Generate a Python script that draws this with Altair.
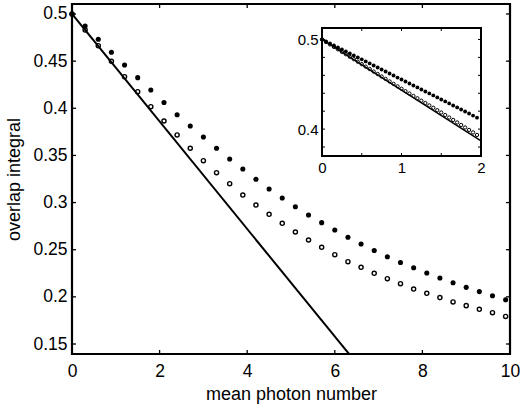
import altair as alt
import pandas as pd

# ---------------- data ----------------
n_main = [0.0, 0.3, 0.6, 0.9, 1.2, 1.5, 1.8, 2.1, 2.4, 2.7, 3.0, 3.3, 3.6, 3.9,
          4.2, 4.5, 4.8, 5.1, 5.4, 5.7, 6.0, 6.3, 6.6, 6.9, 7.2, 7.5, 7.8, 8.1,
          8.4, 8.7, 9.0, 9.3, 9.6, 9.9]
filled_main = [0.5000, 0.4873, 0.4732, 0.4594, 0.4459, 0.4325, 0.4194, 0.4062,
               0.3932, 0.3812, 0.3696, 0.3576, 0.3462, 0.3356, 0.3247, 0.3144,
               0.3049, 0.2956, 0.2868, 0.2787, 0.2709, 0.2632, 0.2561, 0.2492,
               0.2426, 0.2364, 0.2308, 0.2253, 0.2200, 0.2150, 0.2101, 0.2056,
               0.2012, 0.1970]
open_main = [0.5000, 0.4830, 0.4664, 0.4498, 0.4335, 0.4176, 0.4017, 0.3865,
             0.3717, 0.3576, 0.3444, 0.3317, 0.3200, 0.3080, 0.2974, 0.2876,
             0.2780, 0.2688, 0.2603, 0.2526, 0.2447, 0.2373, 0.2313, 0.2250,
             0.2193, 0.2140, 0.2083, 0.2038, 0.1992, 0.1946, 0.1907, 0.1868,
             0.1832, 0.1792]
line_main_x = [0.0, 7.0]
line_main_y = [0.5, 0.101]

n_inset = [0.00, 0.05, 0.10, 0.15, 0.20, 0.25, 0.30, 0.35, 0.40, 0.45,
           0.50, 0.55, 0.60, 0.65, 0.70, 0.75, 0.80, 0.85, 0.90, 0.95,
           1.00, 1.05, 1.10, 1.15, 1.20, 1.25, 1.30, 1.35, 1.40, 1.45,
           1.50, 1.55, 1.60, 1.65, 1.70, 1.75, 1.80, 1.85, 1.90, 1.95]
filled_inset = [0.5000, 0.4978, 0.4955, 0.4933, 0.4911, 0.4889, 0.4866, 0.4844,
                0.4822, 0.4800, 0.4778, 0.4755, 0.4733, 0.4710, 0.4688, 0.4665,
                0.4643, 0.4620, 0.4598, 0.4575, 0.4553, 0.4531, 0.4509, 0.4487,
                0.4465, 0.4442, 0.4420, 0.4398, 0.4376, 0.4354, 0.4331, 0.4309,
                0.4287, 0.4264, 0.4242, 0.4219, 0.4197, 0.4174, 0.4151, 0.4128]
open_inset = [0.5000, 0.4972, 0.4945, 0.4917, 0.4890, 0.4862, 0.4835, 0.4807,
              0.4780, 0.4752, 0.4725, 0.4697, 0.4670, 0.4642, 0.4615, 0.4587,
              0.4560, 0.4532, 0.4505, 0.4477, 0.4450, 0.4423, 0.4397, 0.4370,
              0.4344, 0.4317, 0.4291, 0.4264, 0.4238, 0.4211, 0.4185, 0.4157,
              0.4129, 0.4102, 0.4074, 0.4046, 0.4018, 0.3991, 0.3963, 0.3935]
line_inset_x = [0.0, 2.0]
line_inset_y = [0.5, 0.387]

main_x_ticks = [0, 2, 4, 6, 8, 10]
main_y_ticks = [0.15, 0.2, 0.25, 0.3, 0.35, 0.4, 0.45, 0.5]
inset_x_ticks = [0, 0.5, 1, 1.5, 2]
inset_y_ticks = [0.38, 0.4, 0.42, 0.44, 0.46, 0.48, 0.5]
inset_x_labels = [0, 1, 2]
inset_y_labels = [0.4, 0.5]

main_x_domain = [0, 10]
main_y_domain = [0.1394, 0.5106]
inset_x_domain = [0, 2]
inset_y_domain = [0.37, 0.5128]

x_title = "mean photon number"
y_title = "overlap integral"

# ---------------- layout ----------------
W, H = 438, 350
INSET_X_RANGE = [250, 409]
INSET_Y_RANGE = [152, 24]
FONT = "Liberation Sans"
TICK = 4
ITICK = 3

xs = alt.Scale(domain=main_x_domain, nice=False, zero=False)
ys = alt.Scale(domain=main_y_domain, nice=False, zero=False)
ixs = alt.Scale(domain=inset_x_domain, range=INSET_X_RANGE, nice=False, zero=False)
iys = alt.Scale(domain=inset_y_domain, range=INSET_Y_RANGE, nice=False, zero=False)

main_x_axis = alt.Axis(values=main_x_ticks, title=x_title, ticks=False, domain=False,
                       grid=False, labelFontSize=17.5, titleFontSize=18,
                       labelPadding=8, titlePadding=6, labelFlush=False,
                       labelOverlap=False)
main_y_axis = alt.Axis(values=main_y_ticks, title=y_title, ticks=False, domain=False,
                       grid=False, format=".2~f", labelFontSize=17.5, titleFontSize=18,
                       labelPadding=5, titlePadding=9, labelFlush=False,
                       labelOverlap=False)
inset_x_axis = alt.Axis(values=inset_x_labels, title=None, orient="bottom",
                        offset=-(H - INSET_Y_RANGE[0]), ticks=False, domain=False,
                        grid=False, format=".0f", labelFontSize=15, labelPadding=4,
                        zindex=1, labelFlush=False, labelOverlap=False)
inset_y_axis = alt.Axis(values=inset_y_labels, title=None, orient="left",
                        offset=-INSET_X_RANGE[0], ticks=False, domain=False,
                        grid=False, format=".1f", labelFontSize=15, labelPadding=4,
                        zindex=1, labelFlush=False, labelOverlap=False)

df_f = pd.DataFrame({"x": n_main, "y": filled_main})
df_o = pd.DataFrame({"x": n_main, "y": open_main})
df_l = pd.DataFrame({"x": line_main_x, "y": line_main_y})

def mx(f="x"):
    return alt.X(f"{f}:Q", scale=xs, axis=main_x_axis)

def my(f="y"):
    return alt.Y(f"{f}:Q", scale=ys, axis=main_y_axis)

m_line = alt.Chart(df_l).mark_line(color="black", strokeWidth=2, clip=True).encode(x=mx(), y=my())
m_filled = alt.Chart(df_f).mark_point(filled=True, size=26, color="black", opacity=1).encode(x=mx(), y=my())
m_open = alt.Chart(df_o).mark_point(filled=False, size=17, strokeWidth=1.4, color="black", opacity=1).encode(x=mx(), y=my())

df_mxt = pd.DataFrame({"x": main_x_ticks})
df_myt = pd.DataFrame({"y": main_y_ticks})
m_xt_b = alt.Chart(df_mxt).mark_rule(color="black", strokeWidth=1.3).encode(x=mx(), y=alt.value(H), y2=alt.value(H - TICK))
m_xt_t = alt.Chart(df_mxt).mark_rule(color="black", strokeWidth=1.3).encode(x=mx(), y=alt.value(0), y2=alt.value(TICK))
m_yt_l = alt.Chart(df_myt).mark_rule(color="black", strokeWidth=1.3).encode(y=my(), x=alt.value(0), x2=alt.value(TICK))
m_yt_r = alt.Chart(df_myt).mark_rule(color="black", strokeWidth=1.3).encode(y=my(), x=alt.value(W), x2=alt.value(W - TICK))

main = alt.layer(m_xt_b, m_xt_t, m_yt_l, m_yt_r, m_line, m_open, m_filled)

# ---------------- inset ----------------
df_box = pd.DataFrame({"x": [inset_x_domain[0]], "x2": [inset_x_domain[1]],
                       "y": [inset_y_domain[0]], "y2": [inset_y_domain[1]]})
df_if = pd.DataFrame({"x": n_inset, "y": filled_inset})
df_io = pd.DataFrame({"x": n_inset, "y": open_inset})
df_il = pd.DataFrame({"x": line_inset_x, "y": line_inset_y})
df_ixt = pd.DataFrame({"x": inset_x_ticks})
df_iyt = pd.DataFrame({"y": inset_y_ticks})

def ix(f="x"):
    return alt.X(f"{f}:Q", scale=ixs, axis=inset_x_axis)

def iy(f="y"):
    return alt.Y(f"{f}:Q", scale=iys, axis=inset_y_axis)

i_box = alt.Chart(df_box).mark_rect(fill="white", stroke="black", strokeWidth=2).encode(
    x=ix(), x2="x2:Q", y=iy(), y2="y2:Q")
i_line = alt.Chart(df_il).mark_line(color="black", strokeWidth=1.5).encode(x=ix(), y=iy())
i_open = alt.Chart(df_io).mark_point(filled=False, size=11, strokeWidth=1.0, color="black", opacity=1).encode(x=ix(), y=iy())
i_filled = alt.Chart(df_if).mark_point(filled=True, size=15, color="black", opacity=1).encode(x=ix(), y=iy())
i_xt_b = alt.Chart(df_ixt).mark_rule(color="black", strokeWidth=1).encode(
    x=ix(), y=alt.value(INSET_Y_RANGE[0]), y2=alt.value(INSET_Y_RANGE[0] - ITICK))
i_xt_t = alt.Chart(df_ixt).mark_rule(color="black", strokeWidth=1).encode(
    x=ix(), y=alt.value(INSET_Y_RANGE[1]), y2=alt.value(INSET_Y_RANGE[1] + ITICK))
i_yt_l = alt.Chart(df_iyt).mark_rule(color="black", strokeWidth=1).encode(
    y=iy(), x=alt.value(INSET_X_RANGE[0]), x2=alt.value(INSET_X_RANGE[0] + ITICK))
i_yt_r = alt.Chart(df_iyt).mark_rule(color="black", strokeWidth=1).encode(
    y=iy(), x=alt.value(INSET_X_RANGE[1]), x2=alt.value(INSET_X_RANGE[1] - ITICK))

inset = alt.layer(i_box, i_xt_b, i_xt_t, i_yt_l, i_yt_r, i_line, i_open, i_filled)

chart = alt.layer(main, inset).resolve_scale(
    x="independent", y="independent"
).properties(
    width=W, height=H,
    autosize=alt.AutoSizeParams(type="none"),
    padding={"left": 72, "top": 4, "right": 12, "bottom": 52},
    background="white",
).configure_view(
    stroke="black", strokeWidth=2.2
).configure_axis(
    labelFont=FONT, titleFont=FONT, labelColor="black", titleColor="black",
    titleFontWeight="normal"
)

chart.save("out.html", embed_options={"renderer": "svg", "actions": False})
